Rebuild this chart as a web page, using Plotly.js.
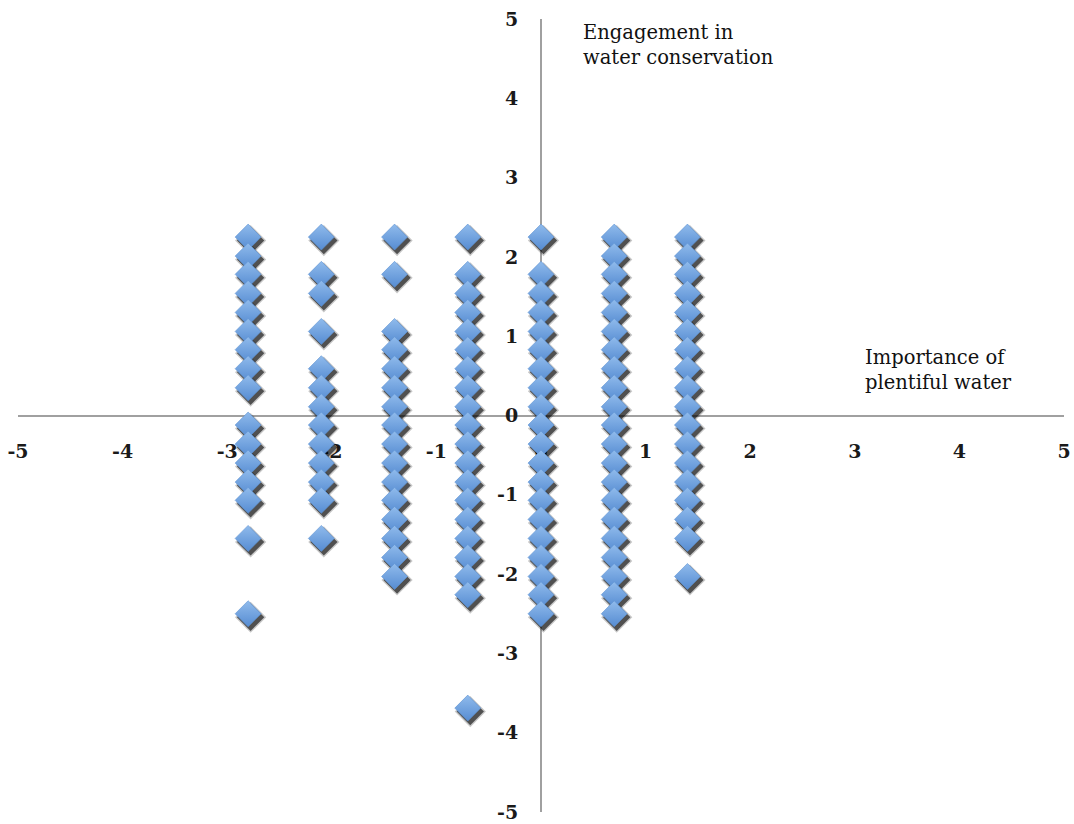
<!DOCTYPE html>
<html>
<head>
<meta charset="utf-8">
<script src="https://cdn.plot.ly/plotly-3.0.1.min.js"></script>
<style>
  html, body { margin: 0; padding: 0; background: #ffffff; }
  #chart { width: 1074px; height: 824px; }
</style>
</head>
<body>
<div id="chart"></div>
<script>
// Column positions (Importance of plentiful water)
const colX = [-2.8, -2.1, -1.4, -0.7, 0, 0.7, 1.4];

// Engagement in water conservation values for each column
const colM28 = [2.25, 2.01, 1.78, 1.54, 1.30, 1.06, 0.83, 0.59, 0.35, -0.12, -0.36, -0.60, -0.84, -1.07, -1.55, -2.50];
const colM21 = [2.25, 1.78, 1.54, 1.06, 0.59, 0.35, 0.11, -0.12, -0.36, -0.60, -0.84, -1.07, -1.55];
const colM14 = [2.25, 1.78, 1.06, 0.83, 0.59, 0.35, 0.11, -0.12, -0.36, -0.60, -0.84, -1.07, -1.31, -1.55, -1.79, -2.03];
const colM07 = [2.25, 1.78, 1.54, 1.30, 1.06, 0.83, 0.59, 0.35, 0.11, -0.12, -0.36, -0.60, -0.84, -1.07, -1.31, -1.55, -1.79, -2.03, -2.26, -3.69];
const colZ00 = [2.25, 1.78, 1.54, 1.30, 1.06, 0.83, 0.59, 0.35, 0.11, -0.12, -0.36, -0.60, -0.84, -1.07, -1.31, -1.55, -1.79, -2.03, -2.26, -2.50];
const colP07 = [2.25, 2.01, 1.78, 1.54, 1.30, 1.06, 0.83, 0.59, 0.35, 0.11, -0.12, -0.36, -0.60, -0.84, -1.07, -1.31, -1.55, -1.79, -2.03, -2.26, -2.50];
const colP14 = [2.25, 2.01, 1.78, 1.54, 1.30, 1.06, 0.83, 0.59, 0.35, 0.11, -0.12, -0.36, -0.60, -0.84, -1.07, -1.31, -1.55, -2.03];

const columns = [colM28, colM21, colM14, colM07, colZ00, colP07, colP14];

// Tick labels
const tickVals = [-5, -4, -3, -2, -1, 0, 1, 2, 3, 4, 5];
const tickText = ['-5', '-4', '-3', '-2', '-1', '0', '1', '2', '3', '4', '5'];

const xTitle = 'Importance of<br>plentiful water';
const yTitle = 'Engagement in<br>water conservation';

// Flatten
const xs = [], ys = [];
columns.forEach((col, i) => col.forEach(v => { xs.push(colX[i]); ys.push(v); }));

const XR = [-5, 5];
const YR = [-5, 5];
const pxPerX = 1046 / 10, pxPerY = 793 / 10;
const sdx = 2.5, sdy = 3.5;   // drop-shadow offset in pixels

const shadow2 = {
  type: 'scatter', mode: 'markers', x: xs, y: ys, xaxis: 'x2', yaxis: 'y2',
  hoverinfo: 'skip',
  marker: { symbol: 'diamond', size: 24, color: 'rgba(0,0,0,0.22)', line: { width: 0 } }
};
const shadow = {
  type: 'scatter', mode: 'markers', x: xs, y: ys, xaxis: 'x2', yaxis: 'y2',
  hoverinfo: 'skip',
  marker: { symbol: 'diamond', size: 21, color: 'rgba(0,0,0,0.6)', line: { width: 0 } }
};
const pts = {
  type: 'scatter', mode: 'markers', x: xs, y: ys, xaxis: 'x3', yaxis: 'y3',
  marker: {
    symbol: 'diamond', size: 20, color: '#90bbec',
    gradient: { type: 'vertical', color: '#568cd2' },
    line: { width: 0.6, color: '#5e92d2' }
  }
};

const tickFont = { family: 'DejaVu Serif, serif', size: 19, color: '#1a1a1a', weight: 'bold' };
const titleFont = { family: 'DejaVu Serif, serif', size: 19.5, color: '#111111' };

const layout = {
  width: 1074, height: 824,
  margin: { l: 18, r: 10, t: 19, b: 12 },
  paper_bgcolor: '#ffffff', plot_bgcolor: '#ffffff',
  showlegend: false,
  xaxis: {
    range: XR, anchor: 'free', position: 0.5,
    tickvals: tickVals, ticktext: tickText,
    showgrid: false, zeroline: false,
    showline: true, linecolor: '#a0a0a0', linewidth: 2,
    ticks: 'outside', ticklen: 19, tickcolor: 'rgba(0,0,0,0)',
    tickfont: tickFont, ticklabeloverflow: 'allow',
    layer: 'below traces', fixedrange: true
  },
  yaxis: {
    range: YR, anchor: 'free', position: 0.5,
    tickvals: tickVals, ticktext: tickText,
    showgrid: false, zeroline: false,
    showline: true, linecolor: '#a0a0a0', linewidth: 2,
    ticks: 'outside', ticklen: 18, tickcolor: 'rgba(0,0,0,0)',
    tickfont: tickFont, ticklabeloverflow: 'allow',
    layer: 'below traces', fixedrange: true
  },
  xaxis2: { overlaying: 'x', range: [XR[0] - sdx / pxPerX, XR[1] - sdx / pxPerX], visible: false, fixedrange: true },
  yaxis2: { overlaying: 'y', range: [YR[0] + sdy / pxPerY, YR[1] + sdy / pxPerY], visible: false, fixedrange: true },
  xaxis3: { overlaying: 'x', range: XR, visible: false, fixedrange: true },
  yaxis3: { overlaying: 'y', range: YR, visible: false, fixedrange: true },
  annotations: [
    { text: yTitle, xref: 'x', yref: 'y', x: 0.38, y: 5.0, xanchor: 'left', yanchor: 'top',
      showarrow: false, align: 'left', font: titleFont },
    { text: xTitle, xref: 'x', yref: 'y', x: 3.08, y: 0.9, xanchor: 'left', yanchor: 'top',
      showarrow: false, align: 'left', font: titleFont }
  ]
};

Plotly.newPlot('chart', [shadow2, shadow, pts], layout, { displayModeBar: false, staticPlot: true });
</script>
</body>
</html>
